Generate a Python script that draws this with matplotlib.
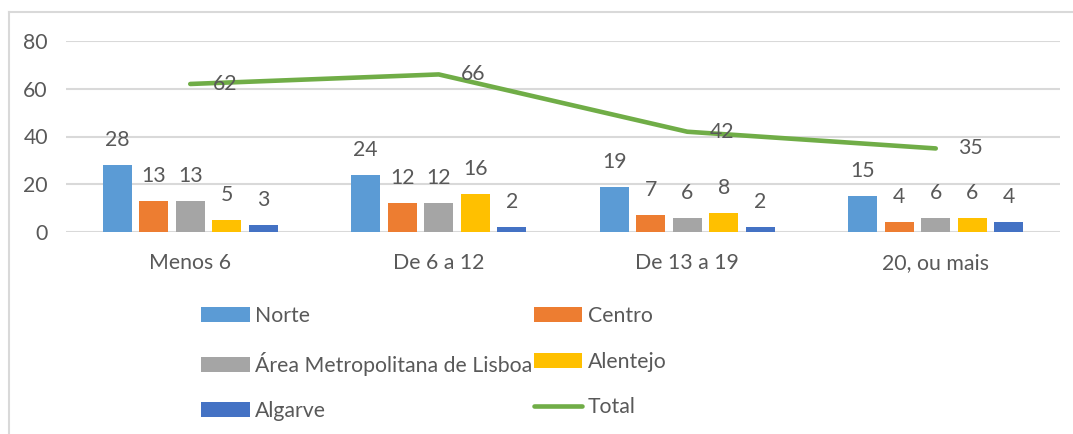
import numpy as np
import matplotlib
matplotlib.use("Agg")
import matplotlib.pyplot as plt
from matplotlib.lines import Line2D

plt.rcParams['font.family'] = ['Lato', 'DejaVu Sans']

categories = ["Menos 6", "De 6 a 12", "De 13 a 19", "20, ou mais"]
regions = ["Norte", "Centro", "Área Metropolitana de Lisboa", "Alentejo", "Algarve"]
norte = [28, 24, 19, 15]
centro = [13, 12, 7, 4]
lisboa = [13, 12, 6, 6]
alentejo = [5, 16, 8, 6]
algarve = [3, 2, 2, 4]
total = [62, 66, 42, 35]

colors = ["#5B9BD5", "#ED7D31", "#A5A5A5", "#FFC000", "#4472C4"]
line_color = "#70AD47"
text_color = "#595959"
grid_color = "#D9D9D9"
fs = 15.3

W, H = 1073, 434
fig = plt.figure(figsize=(W / 100, H / 100), dpi=100)
ax = fig.add_axes([66 / W, (H - 232) / H, (1060 - 66) / W, (232 - 41) / H])

x = np.arange(len(categories))
step, width = 0.147, 0.117
series = [norte, centro, lisboa, alentejo, algarve]
handles = {}
for i, (vals, name, c) in enumerate(zip(series, regions, colors)):
    pos = x + (i - 2) * step
    b = ax.bar(pos, vals, width, color=c, label=name, zorder=2)
    handles[name] = b
    for px, v in zip(pos, vals):
        ax.annotate(str(v), (px, v), xytext=(0, 18), textcoords="offset points",
                    ha="center", va="center", fontsize=fs, color=text_color)

ln, = ax.plot(x, total, color=line_color, lw=3.3, solid_capstyle="round",
              solid_joinstyle="round", zorder=3, label="Total")
handles["Total"] = ln
for px, v in zip(x, total):
    ax.annotate(str(v), (px, v), xytext=(16, 0), textcoords="offset points",
                ha="left", va="center", fontsize=fs, color=text_color, zorder=4)

ax.set_xlim(-0.5, 3.5)
ax.set_ylim(0, 80)
ax.set_yticks([0, 20, 40, 60, 80])
ax.set_xticks(x)
ax.set_xticklabels(categories)
ax.tick_params(length=0, labelsize=fs, labelcolor=text_color)
ax.tick_params(axis="x", pad=15)
ax.tick_params(axis="y", pad=13)
ax.grid(axis="y", color=grid_color, lw=1.5, zorder=0)
for s in ax.spines.values():
    s.set_visible(False)

order = ["Norte", "Área Metropolitana de Lisboa", "Algarve", "Centro", "Alentejo", "Total"]
leg = fig.legend([handles[k] for k in order], order, ncol=2, frameon=False,
                 loc="upper left", bbox_to_anchor=(201 / W, (H - 306) / H),
                 fontsize=fs, labelcolor=text_color, handlelength=2.3,
                 handleheight=0.7, handletextpad=0.25, columnspacing=0.05,
                 labelspacing=1.2, borderpad=0, borderaxespad=0)

# chart border (left and top only visible)
fig.add_artist(Line2D([8.5 / W, 8.5 / W], [0, (H - 11.5) / H], color=grid_color, lw=1.5))
fig.add_artist(Line2D([8.5 / W, 1], [(H - 11.5) / H, (H - 11.5) / H], color=grid_color, lw=1.5))

fig.savefig("out.png", dpi=100)
